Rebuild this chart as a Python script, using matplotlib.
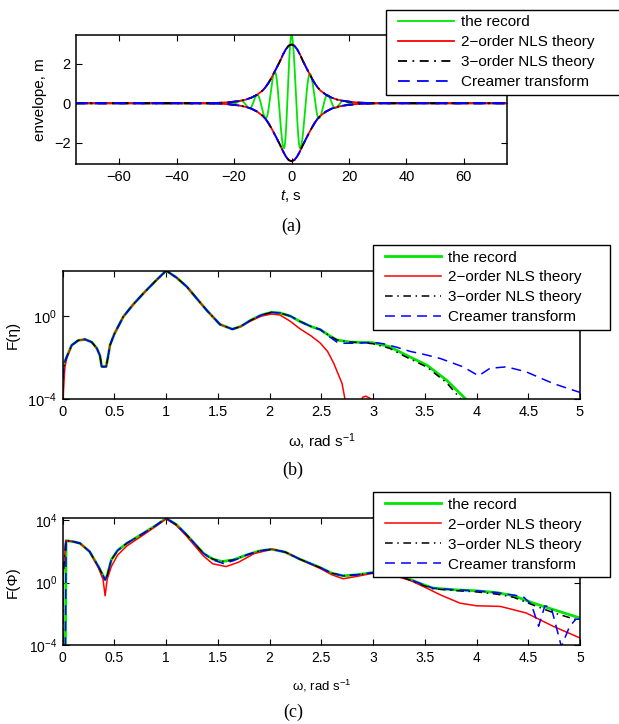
import numpy as np
import matplotlib
matplotlib.use('Agg')
import matplotlib.pyplot as plt
from matplotlib.ticker import FixedLocator, NullLocator, FuncFormatter
from matplotlib.legend_handler import HandlerLine2D

plt.rcParams['font.family'] = ['Liberation Sans', 'DejaVu Sans']
plt.rcParams['mathtext.fontset'] = 'custom'
plt.rcParams['mathtext.rm'] = 'Liberation Sans'
plt.rcParams['mathtext.it'] = 'Liberation Sans:italic'
plt.rcParams['mathtext.bf'] = 'Liberation Sans:bold'

# ---------------- data: panel (a) ----------------
labels = ['the record', '2\u2212order NLS theory', '3\u2212order NLS theory', 'Creamer transform']

# extrema of the recorded surface elevation (t [s], eta [m])
rec_t = [-75, -30, -26.5, -23.5, -20.5, -17.5, -14.5, -11.9, -8.9, -5.8, -2.6, 0.0,
         3.0, 6.4, 9.5, 12.5, 15.2, 18.0, 21.0, 24.0, 27.0, 30, 75]
rec_v = [0, 0, -0.01, 0.03, -0.06, 0.13, -0.25, 0.42, -0.76, 1.6, -2.27, 3.42,
         -2.27, 1.5, -0.76, 0.42, -0.25, 0.13, -0.06, 0.03, -0.01, 0, 0]

env_t = [-75, -32, -27, -24, -22, -20, -18, -16, -14, -12, -10, -9, -8, -7, -6, -5, -4, -3,
         -2, -1, 0, 1, 2, 3, 4, 5, 6, 7, 8, 9, 10, 12, 14, 16, 18, 20, 22, 24, 27, 32, 75]
env_upper = [0, 0, 0.012, 0.03, 0.05, 0.08, 0.12, 0.18, 0.28, 0.43, 0.65, 0.82, 1.03, 1.28,
             1.56, 1.84, 2.13, 2.45, 2.72, 2.91, 2.97, 2.91, 2.72, 2.45, 2.13, 1.84, 1.56,
             1.28, 1.03, 0.82, 0.65, 0.43, 0.28, 0.18, 0.12, 0.08, 0.05, 0.03, 0.012, 0, 0]
env_lower = [0, 0, -0.012, -0.03, -0.05, -0.08, -0.12, -0.18, -0.27, -0.42, -0.64, -0.8,
             -1.01, -1.26, -1.53, -1.81, -2.1, -2.41, -2.68, -2.87, -2.93, -2.87, -2.68,
             -2.41, -2.1, -1.81, -1.53, -1.26, -1.01, -0.8, -0.64, -0.42, -0.27, -0.18,
             -0.12, -0.08, -0.05, -0.03, -0.012, 0, 0]

# ---------------- data: panel (b)  F(eta), log10 values ----------------
b_w_common = [0.0, 0.02, 0.04, 0.087, 0.15, 0.215, 0.28, 0.33, 0.36, 0.377, 0.42, 0.44,
              0.457, 0.5, 0.586, 0.68, 0.78, 0.9, 1.0, 1.1, 1.2, 1.3, 1.39, 1.52, 1.64,
              1.72, 1.81, 1.92, 2.02]
b_lg_common = [-3.0, -2.2, -1.95, -1.4, -1.17, -1.12, -1.25, -1.55, -1.9, -2.43, -2.43,
               -1.9, -1.4, -0.85, -0.03, 0.55, 1.09, 1.7, 2.18, 1.85, 1.41, 0.82, 0.29,
               -0.4, -0.63, -0.5, -0.22, 0.05, 0.18]

b_w_rec = [2.1, 2.2, 2.29, 2.4, 2.49, 2.58, 2.65, 2.78, 3.0, 3.16, 3.32, 3.52, 3.71, 3.89, 3.95]
b_lg_rec = [0.15, 0.0, -0.25, -0.5, -0.65, -0.95, -1.15, -1.25, -1.28, -1.47, -1.88,
            -2.36, -3.08, -3.96, -4.3]

b_w_nls3 = [2.1, 2.2, 2.29, 2.4, 2.49, 2.58, 2.65, 2.78, 2.9, 3.0, 3.16, 3.32, 3.52,
            3.71, 3.85, 3.9]
b_lg_nls3 = [0.15, 0.0, -0.25, -0.5, -0.65, -0.95, -1.15, -1.25, -1.28, -1.33, -1.55,
             -1.97, -2.45, -3.2, -4.0, -4.3]

b_w_crm = [2.1, 2.2, 2.29, 2.4, 2.49, 2.58, 2.65, 2.71, 2.85, 3.0, 3.1, 3.23, 3.36, 3.5,
           3.65, 3.87, 4.02, 4.13, 4.29, 4.48, 4.74, 5.0]
b_lg_crm = [0.15, 0.0, -0.25, -0.5, -0.65, -1.0, -1.25, -1.31, -1.3, -1.26, -1.33, -1.5,
            -1.7, -1.85, -2.04, -2.44, -2.87, -2.51, -2.44, -2.68, -3.24, -3.67]

b_w_nls2 = [0.0, 0.02, 0.04, 0.087, 0.15, 0.215, 0.28, 0.33, 0.36, 0.377, 0.42, 0.44,
            0.457, 0.5, 0.586, 0.68, 0.78, 0.9, 1.0, 1.1, 1.2, 1.3, 1.39, 1.52, 1.64,
            1.72, 1.81, 1.92, 2.02, 2.1, 2.2, 2.29, 2.4, 2.49, 2.56, 2.62, 2.70, 2.74,
            2.86, 2.9, 2.93, 2.97, 3.0]
b_lg_nls2 = [-4.3, -2.5, -2.0, -1.4, -1.17, -1.12, -1.25, -1.55, -1.9, -2.43, -2.43,
             -1.9, -1.4, -0.85, -0.03, 0.55, 1.09, 1.7, 2.18, 1.85, 1.41, 0.82, 0.29,
             -0.4, -0.63, -0.5, -0.25, 0.0, 0.1, 0.05, -0.25, -0.6, -0.95, -1.3, -1.7,
             -2.27, -3.24, -4.3, -4.3, -3.9, -3.85, -3.95, -4.3]

# ---------------- data: panel (c)  F(Phi), log10 values ----------------
c_w_rec = [0.0, 0.025, 0.033, 0.1, 0.167, 0.26, 0.345, 0.39, 0.41, 0.43, 0.47, 0.53,
           0.62, 0.78, 0.9, 1.0, 1.1, 1.2, 1.36, 1.45, 1.54, 1.65, 1.78, 1.9, 2.02, 2.15,
           2.29, 2.49, 2.6, 2.71, 2.85, 3.0, 3.15, 3.3, 3.45, 3.58, 3.8, 4.0, 4.2, 4.36,
           4.55, 4.75, 5.0]
c_lg_rec = [-5, -5, 2.68, 2.62, 2.51, 1.98, 1.02, 0.45, 0.17, 0.45, 1.45, 2.05, 2.51,
            3.15, 3.65, 4.11, 3.7, 3.04, 1.87, 1.5, 1.34, 1.45, 1.77, 2.02, 2.13, 1.95,
            1.5, 0.95, 0.6, 0.43, 0.5, 0.64, 0.7, 0.35, -0.05, -0.36, -0.47, -0.53,
            -0.65, -0.85, -1.32, -1.75, -2.27]

c_w_nls3 = [0.0, 0.005, 0.03, 0.1, 0.167, 0.26, 0.345, 0.39, 0.41, 0.43, 0.47, 0.53,
            0.62, 0.78, 0.9, 1.0, 1.1, 1.2, 1.36, 1.45, 1.54, 1.65, 1.78, 1.9, 2.02, 2.15,
            2.29, 2.49, 2.6, 2.71, 2.85, 3.0, 3.15, 3.3, 3.45, 3.58, 3.8, 4.0, 4.2, 4.36,
            4.55, 4.75, 5.0]
c_lg_nls3 = [-5, 0.5, 2.68, 2.62, 2.51, 1.98, 1.02, 0.45, 0.17, 0.45, 1.45, 2.05, 2.51,
             3.15, 3.65, 4.11, 3.7, 3.04, 1.87, 1.5, 1.34, 1.45, 1.77, 2.02, 2.13, 1.95,
             1.5, 0.95, 0.6, 0.43, 0.5, 0.62, 0.68, 0.3, -0.1, -0.4, -0.52, -0.6, -0.75,
             -0.95, -1.45, -1.95, -2.45]

c_w_crm = [0.0, 0.025, 0.033, 0.1, 0.167, 0.26, 0.345, 0.39, 0.41, 0.43, 0.47, 0.53,
           0.62, 0.78, 0.9, 1.0, 1.1, 1.2, 1.36, 1.45, 1.56, 1.65, 1.78, 1.9, 2.02, 2.15,
           2.29, 2.49, 2.6, 2.71, 2.85, 3.0, 3.15, 3.3, 3.45, 3.58, 3.8, 4.0, 4.2, 4.45,
           4.53, 4.6, 4.66, 4.72, 4.82, 4.9, 4.96, 5.0]
c_lg_crm = [-5, -5, 2.68, 2.62, 2.51, 1.98, 1.02, 0.45, 0.17, 0.45, 1.45, 2.05, 2.51,
            3.15, 3.65, 4.11, 3.7, 3.04, 1.87, 1.45, 1.2, 1.4, 1.77, 2.02, 2.13, 1.95,
            1.5, 0.95, 0.6, 0.43, 0.5, 0.64, 0.7, 0.35, -0.05, -0.36, -0.47, -0.53,
            -0.65, -0.9, -1.4, -2.8, -1.5, -1.55, -4.1, -2.8, -2.35, -2.35]

c_w_nls2 = [0.0, 0.005, 0.03, 0.1, 0.167, 0.26, 0.345, 0.39, 0.41, 0.43, 0.47, 0.53,
            0.62, 0.78, 0.9, 1.0, 1.1, 1.2, 1.36, 1.45, 1.58, 1.7, 1.85, 2.02, 2.15, 2.29,
            2.49, 2.6, 2.71, 2.85, 3.0, 3.15, 3.36, 3.5, 3.65, 3.84, 4.0, 4.23, 4.48,
            4.74, 5.0]
c_lg_nls2 = [-5, 0.5, 2.68, 2.62, 2.51, 1.98, 0.95, 0.2, -0.85, 0.2, 1.02, 1.75, 2.34,
             3.05, 3.6, 4.08, 3.65, 2.95, 1.7, 1.2, 1.02, 1.3, 1.85, 2.13, 1.95, 1.5,
             0.9, 0.5, 0.24, 0.4, 0.6, 0.55, 0.13, -0.3, -0.79, -1.32, -1.49, -1.53,
             -1.95, -2.8, -3.55]

# ---------------- styles ----------------
GREEN = '#00e600'
RED = '#ff0000'
BLUE = '#0000ff'
BLACK = '#000000'
DASHDOT = (5, 3, 1, 3)
DASHED = (6.5, 4)


def wave(tx, vx, n=40):
    ts, vs = [], []
    for i in range(len(tx) - 1):
        s = np.linspace(0, 1, n, endpoint=False)
        ts.append(tx[i] + (tx[i + 1] - tx[i]) * s)
        vs.append(vx[i] + (vx[i + 1] - vx[i]) * (1 - np.cos(np.pi * s)) / 2)
    ts.append([tx[-1]])
    vs.append([vx[-1]])
    return np.concatenate(ts), np.concatenate(vs)


class PadHandler(HandlerLine2D):
    """Legend line handle with some blank space on its left."""
    def __init__(self, pad=5.0, **kw):
        super().__init__(**kw)
        self._pad = pad

    def create_artists(self, legend, orig_handle, xdescent, ydescent, width, height,
                       fontsize, trans):
        arts = super().create_artists(legend, orig_handle, xdescent, ydescent, width,
                                      height, fontsize, trans)
        line = arts[0]
        x = np.asarray(line.get_xdata(), dtype=float)
        if len(x) >= 2:
            x0, x1 = x[0] + self._pad, x[-1]
            line.set_xdata(np.linspace(x0, x1, len(x)))
        return arts


def style_axes(ax, fs):
    ax.tick_params(direction='in', top=True, right=True, length=4, width=0.8,
                   labelsize=fs, pad=4)
    for sp in ax.spines.values():
        sp.set_linewidth(1.1)


def add_legend(ax, handles, x, y, w):
    hm = {h: PadHandler(pad=5.0) for h in handles}
    leg = ax.legend(handles, labels, loc='upper left', bbox_to_anchor=(x, y, w, 0),
                    bbox_transform=fig.transFigure, mode='expand', fontsize=11,
                    frameon=True, fancybox=False, framealpha=1, edgecolor='black',
                    borderpad=0.36, labelspacing=0.39, handlelength=4.1,
                    handletextpad=0.45, borderaxespad=0, handler_map=hm)
    leg.get_frame().set_linewidth(1.0)
    return leg


fig = plt.figure(figsize=(6.19, 7.24), dpi=100)

# ---------------- panel (a) ----------------
axa = fig.add_axes([76 / 619, 1 - 164 / 724, (507 - 76) / 619, (164 - 35) / 724])
gt, gv = wave(rec_t, rec_v)
ha0, = axa.plot(gt, gv, color=GREEN, lw=1.3)
ha1, = axa.plot(env_t, env_upper, color=RED, lw=1.3)
axa.plot(env_t, env_lower, color=RED, lw=1.3)
ha2, = axa.plot(env_t, env_upper, color=BLACK, lw=1.3, dashes=DASHDOT)
axa.plot(env_t, env_lower, color=BLACK, lw=1.3, dashes=DASHDOT)
ha3, = axa.plot(env_t, env_upper, color=BLUE, lw=1.3, dashes=DASHED)
axa.plot(env_t, env_lower, color=BLUE, lw=1.3, dashes=DASHED)
axa.set_xlim(-75, 75)
axa.set_ylim(-3.07, 3.45)
axa.set_xticks([-60, -40, -20, 0, 20, 40, 60])
axa.set_yticks([-2, 0, 2])
style_axes(axa, 10.5)
add_legend(axa, [ha0, ha1, ha2, ha3], 386 / 619, 1 - 10 / 724, 240 / 619)
fig.text(40 / 619, 1 - 99.5 / 724, 'envelope, m', rotation=90, ha='center', va='center',
         fontsize=11)
fig.text(291 / 619, 1 - 196 / 724, '$t$, s', ha='center', va='center', fontsize=11)
fig.text(291 / 619, 1 - 226 / 724, '(a)', ha='center', va='center', fontsize=13,
         family='Liberation Serif')

logfmt = FuncFormatter(lambda v, p: r'$10^{%d}$' % int(round(np.log10(v))))
wfmt = FuncFormatter(lambda v, p: '%g' % v)

# ---------------- panel (b) ----------------
axb = fig.add_axes([62.7 / 619, 1 - 399.3 / 724, (580 - 62.7) / 619, (399.3 - 270.7) / 724])
p = lambda a: 10.0 ** np.array(a)
hb0, = axb.plot(b_w_common + b_w_rec, p(b_lg_common + b_lg_rec), color=GREEN, lw=2.0)
hb1, = axb.plot(b_w_nls2, p(b_lg_nls2), color=RED, lw=1.1)
hb2, = axb.plot(b_w_common + b_w_nls3, p(b_lg_common + b_lg_nls3), color=BLACK, lw=1.1,
                dashes=DASHDOT)
hb3, = axb.plot(b_w_common + b_w_crm, p(b_lg_common + b_lg_crm), color=BLUE, lw=1.1,
                dashes=DASHED)
axb.set_yscale('log')
axb.set_xlim(0, 5)
axb.set_ylim(1e-4, 10 ** 2.18)
axb.xaxis.set_major_locator(FixedLocator(np.arange(0, 5.01, 0.5)))
axb.xaxis.set_major_formatter(wfmt)
axb.yaxis.set_major_locator(FixedLocator([1e-4, 1e0]))
axb.yaxis.set_major_formatter(logfmt)
axb.yaxis.set_minor_locator(NullLocator())
style_axes(axb, 10.5)
add_legend(axb, [hb0, hb1, hb2, hb3], 372.7 / 619, 1 - 245 / 724, 237 / 619)
fig.text(13 / 619, 1 - 335 / 724, 'F(\u03b7)', rotation=90, ha='center', va='center',
         fontsize=11)
fig.text(322 / 619, 1 - 442 / 724, '\u03c9, rad s$^{\u22121}$', ha='center', va='center',
         fontsize=11)
fig.text(293 / 619, 1 - 470 / 724, '(b)', ha='center', va='center', fontsize=13,
         family='Liberation Serif')

# ---------------- panel (c) ----------------
axc = fig.add_axes([62.7 / 619, 1 - 645 / 724, (580 - 62.7) / 619, (645 - 518.3) / 724])
hc0, = axc.plot(c_w_rec, p(c_lg_rec), color=GREEN, lw=2.0)
hc1, = axc.plot(c_w_nls2, p(c_lg_nls2), color=RED, lw=1.1)
hc2, = axc.plot(c_w_nls3, p(c_lg_nls3), color=BLACK, lw=1.1, dashes=DASHDOT)
hc3, = axc.plot(c_w_crm, p(c_lg_crm), color=BLUE, lw=1.1, dashes=DASHED)
axc.set_yscale('log')
axc.set_xlim(0, 5)
axc.set_ylim(1e-4, 10 ** 4.11)
axc.xaxis.set_major_locator(FixedLocator(np.arange(0, 5.01, 0.5)))
axc.xaxis.set_major_formatter(wfmt)
axc.yaxis.set_major_locator(FixedLocator([1e-4, 1e0, 1e4]))
axc.yaxis.set_major_formatter(logfmt)
axc.yaxis.set_minor_locator(NullLocator())
style_axes(axc, 10)
add_legend(axc, [hc0, hc1, hc2, hc3], 372.7 / 619, 1 - 492.3 / 724, 237 / 619)
fig.text(13 / 619, 1 - 582 / 724, 'F(\u03a6)', rotation=90, ha='center', va='center',
         fontsize=11)
fig.text(322 / 619, 1 - 686 / 724, '\u03c9, rad s$^{\u22121}$', ha='center', va='center',
         fontsize=9.5)
fig.text(293 / 619, 1 - 712 / 724, '(c)', ha='center', va='center', fontsize=13,
         family='Liberation Serif')

fig.savefig('out.png', dpi=100)
